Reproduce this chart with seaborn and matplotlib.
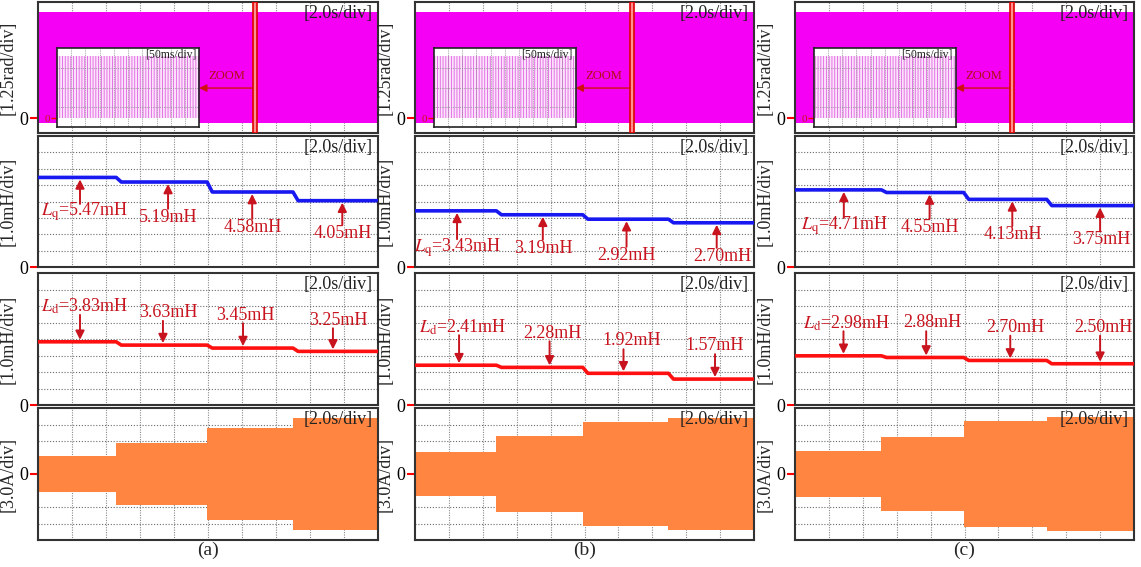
import numpy as np
import pandas as pd
import matplotlib
matplotlib.use('Agg')
import matplotlib.pyplot as plt
import seaborn as sns

#----------------------------------------------------------------------
# DATA

panel_names = ['(a)', '(b)', '(c)']

# q-axis inductance levels [mH]
lq_a = [5.47, 5.19, 4.58, 4.05]
lq_b = [3.43, 3.19, 2.92, 2.70]
lq_c = [4.71, 4.55, 4.13, 3.75]

# d-axis inductance levels [mH]
ld_a = [3.83, 3.63, 3.45, 3.25]
ld_b = [2.41, 2.28, 1.92, 1.57]
ld_c = [2.98, 2.88, 2.70, 2.50]

# phase current envelope amplitude [A]
amp_a = [3.2, 5.7, 8.3, 10.2]
amp_b = [4.0, 6.9, 9.5, 10.2]
amp_c = [4.2, 6.7, 9.6, 10.4]

# load step instants [s]
steps_a = [4.6, 9.95, 15.0]
steps_b = [4.8, 9.9, 14.95]
steps_c = [5.1, 9.95, 14.85]

# rotor angle band [rad] and zoom marker instant [s]
theta_lo = -0.38
theta_hi = 8.08
zoom_t = [12.76, 12.8, 12.82]

# annotation anchors: label x [s], label y [mH], arrow x [s]
lq_lab_x = [[2.74, 7.65, 12.65, 17.9], [2.54, 7.6, 12.5, 18.15], [2.94, 7.94, 12.88, 18.06]]
lq_lab_y = [[3.35, 3.05, 2.44, 2.07], [1.2, 1.16, 0.73, 0.67], [2.5, 2.44, 2.0, 1.7]]
lq_arr_x = [[2.47, 7.65, 12.6, 17.9], [2.48, 7.54, 12.48, 17.8], [2.88, 7.94, 12.82, 18.0]]

ld_lab_x = [[2.74, 7.65, 12.2, 17.65], [2.8, 8.1, 12.8, 17.7], [3.06, 8.1, 13.0, 18.2]]
ld_lab_y = [[5.96, 5.6, 5.45, 5.15], [4.73, 4.36, 3.88, 3.58], [4.97, 4.97, 4.7, 4.7]]
ld_arr_x = [[2.47, 7.35, 12.06, 17.35], [2.6, 7.94, 12.3, 17.7], [2.86, 7.74, 12.7, 18.0]]

lq_all = [lq_a, lq_b, lq_c]
ld_all = [ld_a, ld_b, ld_c]
amp_all = [amp_a, amp_b, amp_c]
steps_all = [steps_a, steps_b, steps_c]

#----------------------------------------------------------------------
# STYLE

sns.set_style('white')
plt.rcParams['font.family'] = 'serif'
plt.rcParams['font.serif'] = ['Liberation Serif', 'Times New Roman', 'DejaVu Serif']
plt.rcParams['mathtext.fontset'] = 'stix'
plt.rcParams['hatch.linewidth'] = 0.6

MAGENTA = '#F500F5'
BLUE = '#1818F0'
RED = '#FF1010'
ORANGE = '#FF8540'
DARKRED = '#C8141E'
T_END = 20.0

fig = plt.figure(figsize=(11.41, 5.67), dpi=100)

col_left = [38, 415, 795]
col_width = [340, 339, 339]
row_top = [2, 136, 273, 408]
row_h = [131, 131, 132, 132]
W, H = 1141, 567


def make_axes(c, r):
    rect = [col_left[c] / W, (H - row_top[r] - row_h[r]) / H,
            col_width[c] / W, row_h[r] / H]
    return fig.add_axes(rect)


def grid_and_frame(ax, ylo, yhi, ylabel, zero_y=0):
    ax.set_xlim(0, T_END)
    ax.set_ylim(ylo, yhi)
    for k in range(1, 10):
        ax.axvline(k * 2.0, color='#8a8a8a', lw=0.8, ls=(0, (1, 1.2)), zorder=0.5)
    dy = (yhi - ylo) / 8
    for k in range(1, 8):
        ax.axhline(ylo + k * dy, color='#6a6a6a', lw=0.8, ls=(0, (1, 1.6)), zorder=0.5)
    ax.set_xticks([])
    ax.set_yticks([zero_y])
    ax.set_yticklabels(['0'])
    ax.tick_params(axis='y', length=6, width=1.5, color='red', labelcolor='black',
                   labelsize=13, pad=1, left=True)
    for s in ax.spines.values():
        s.set_color('#333333')
        s.set_linewidth(1.5)
    ax.set_ylabel(ylabel, fontsize=13, labelpad=2)
    ax.text(0.985, 0.915, '[2.0s/div]', transform=ax.transAxes, ha='right', va='center',
            fontsize=13, color='#222222', zorder=6)


def step_series(levels, steps, ramp=0.3):
    t = [0.0]
    y = [levels[0]]
    for i, s in enumerate(steps):
        t += [s, s + ramp]
        y += [levels[i], levels[i + 1]]
    t.append(T_END)
    y.append(levels[-1])
    return pd.DataFrame({'t': t, 'L': y})


def add_labels(ax, levels, lab_x, lab_y, arr_x, sym, below):
    for i in range(4):
        txt = f'{levels[i]:.2f}mH'
        if i == 0:
            txt = r'$L_{\rm ' + sym + r'}$=' + txt
        ax.text(lab_x[i], lab_y[i], txt, ha='center', va='center', fontsize=13,
                color=DARKRED, zorder=6)
        if below:
            tail, tip = lab_y[i] + 0.5, levels[i] - 0.12
        else:
            tail, tip = lab_y[i] - 0.5, levels[i] + 0.12
        ax.annotate('', xy=(arr_x[i], tip), xytext=(arr_x[i], tail),
                    arrowprops=dict(arrowstyle='-|>', color=DARKRED, lw=1.4,
                                    mutation_scale=13, shrinkA=0, shrinkB=0), zorder=6)


for c in range(3):
    # ---- row 1: rotor angle
    ax = make_axes(c, 0)
    grid_and_frame(ax, -1.14, 8.86, '[1.25rad/div]')
    ax.fill_between([0, T_END], [theta_lo, theta_lo], [theta_hi, theta_hi],
                    color=MAGENTA, lw=0, zorder=2)
    ax.axvspan(zoom_t[c] - 0.12, zoom_t[c] + 0.12, facecolor='#FF9090',
               edgecolor='#E00000', lw=1.2, zorder=4)
    ins = ax.inset_axes([0.056, 0.046, 0.418, 0.60])
    ins.set_zorder(5)
    ins.set_xlim(0, 500)
    ins.set_ylim(-0.9, 7.0)
    ins.set_facecolor('white')
    ins.fill_between([0, 500], [0, 0], [6.28, 6.28], facecolor='#FBE4FB',
                     edgecolor='#E060E0', hatch='|' * 6, lw=0)
    for k in range(1, 10):
        ins.axvline(k * 50, color='#909090', lw=0.6, ls=(0, (1, 1.2)))
    for k in range(1, 4):
        ins.axhline(-0.9 + k * 7.9 / 4, color='#909090', lw=0.6, ls=(0, (1, 1.2)))
    ins.set_xticks([])
    ins.set_yticks([0])
    ins.set_yticklabels(['0'])
    ins.tick_params(axis='y', length=4, width=1, color='red', labelcolor=DARKRED,
                    labelsize=8, pad=1, left=True)
    for s in ins.spines.values():
        s.set_color('#222222')
        s.set_linewidth(1.2)
    ins.text(0.98, 0.92, '[50ms/div]', transform=ins.transAxes, ha='right',
             va='center', fontsize=8.5, color='#222222')
    inset_right = (0.056 + 0.418) * T_END
    ax.annotate('', xy=(inset_right, 2.29), xytext=(zoom_t[c] - 0.12, 2.29),
                arrowprops=dict(arrowstyle='-|>', color='#D01010', lw=1,
                                mutation_scale=11, shrinkA=0, shrinkB=0), zorder=5)
    ax.text((inset_right + zoom_t[c]) / 2, 3.2, 'ZOOM', ha='center', va='center',
            fontsize=9, color='#B01010', zorder=5)

    # ---- row 2: Lq
    ax = make_axes(c, 1)
    grid_and_frame(ax, 0, 8, '[1.0mH/div]')
    df = step_series(lq_all[c], steps_all[c])
    sns.lineplot(data=df, x='t', y='L', ax=ax, color=BLUE, lw=2.6, estimator=None, zorder=3)
    ax.set_xlabel('')
    ax.set_ylabel('[1.0mH/div]', fontsize=13, labelpad=2)
    add_labels(ax, lq_all[c], lq_lab_x[c], lq_lab_y[c], lq_arr_x[c], 'q', below=True)

    # ---- row 3: Ld
    ax = make_axes(c, 2)
    grid_and_frame(ax, 0, 8, '[1.0mH/div]')
    df = step_series(ld_all[c], steps_all[c])
    sns.lineplot(data=df, x='t', y='L', ax=ax, color=RED, lw=2.6, estimator=None, zorder=3)
    ax.set_xlabel('')
    ax.set_ylabel('[1.0mH/div]', fontsize=13, labelpad=2)
    add_labels(ax, ld_all[c], ld_lab_x[c], ld_lab_y[c], ld_arr_x[c], 'd', below=False)

    # ---- row 4: phase current envelope
    ax = make_axes(c, 3)
    grid_and_frame(ax, -12, 12, '[3.0A/div]')
    tt = [0.0] + steps_all[c] + [T_END]
    aa = np.array(amp_all[c] + [amp_all[c][-1]])
    ax.fill_between(tt, -aa, aa, step='post', color=ORANGE, lw=0, zorder=2)

    fig.text((col_left[c] + col_width[c] / 2) / W, (H - 550) / H, panel_names[c],
             ha='center', va='center', fontsize=14)

fig.savefig('out.png', dpi=100)
